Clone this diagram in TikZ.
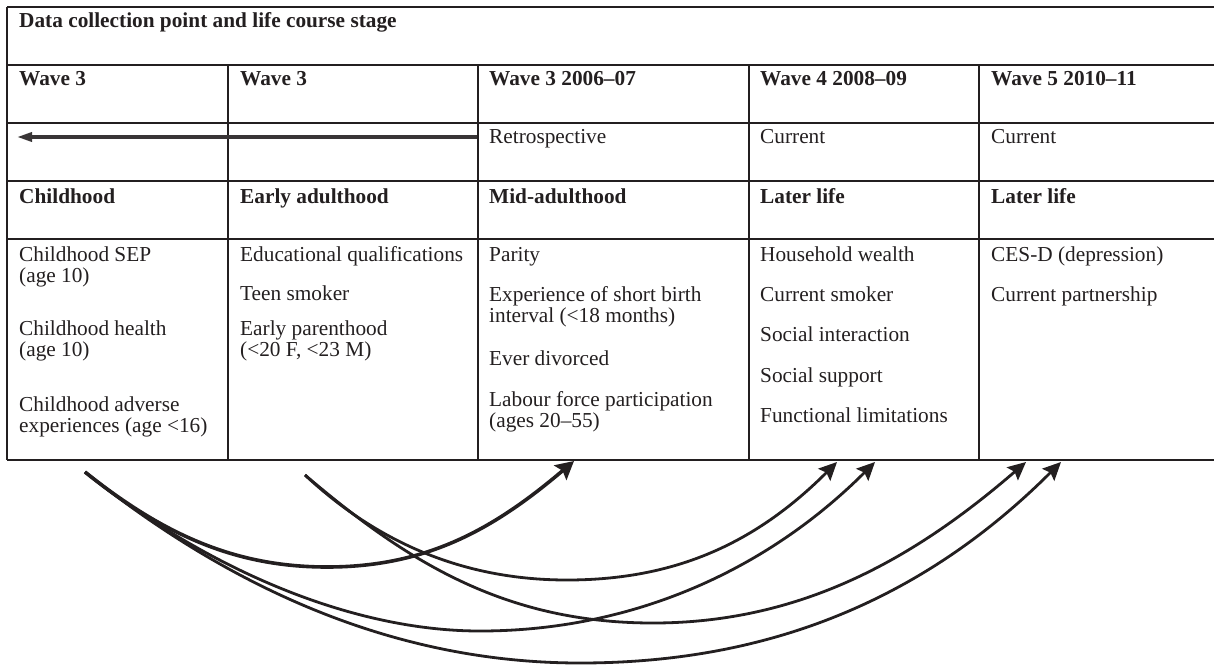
\documentclass[tikz,border=0pt]{standalone}
\usepackage{fontspec}
\setmainfont{Liberation Serif}
\usetikzlibrary{arrows.meta}
\definecolor{ink}{RGB}{35,31,32}
\newcommand\tfs{\fontsize{21.3}{21}\selectfont}
\begin{document}
\begin{tikzpicture}[x=1pt,y=-1pt,
  cell/.style={anchor=base west, inner sep=0pt, font=\tfs, text=ink},
  head/.style={cell, font=\tfs\bfseries},
  gridline/.style={line width=1.3pt, draw=ink},
  rowarrow/.style={line width=3.4pt, draw=ink!90, -{Triangle[length=15pt,width=9pt]}},
  flow/.style={line width=2.8pt, draw=ink, -{Stealth[length=18pt,width=17pt,inset=3pt]}},
  flowthick/.style={line width=3.6pt, draw=ink, -{Stealth[length=18pt,width=19pt,inset=3pt]}}]
\useasboundingbox (0,0) rectangle (1214,666);
% table grid
\foreach \yy in {7,65,123,181,239,460} \draw[gridline] (7,\yy) -- (1214,\yy);
\draw[gridline] (7,7) -- (7,460);
\foreach \xx in {228,478,749,979} \draw[gridline] (\xx,65) -- (\xx,460);
% title
\node[head] (title) at (19,28) {Data collection point and life course stage};
% wave row
\node[head] (w1) at (19,86) {Wave 3};
\node[head] (w2) at (240,86) {Wave 3};
\node[head] (w3) at (489,86) {Wave 3 2006–07};
\node[head] (w4) at (760,86) {Wave 4 2008–09};
\node[head] (w5) at (991,86) {Wave 5 2010–11};
% retrospective row
\node[cell] (r3) at (489,143) {Retrospective};
\node[cell] (r4) at (760,143) {Current};
\node[cell] (r5) at (991,143) {Current};
\coordinate (ra) at (477,137);
\coordinate (rb) at (17,137);
\draw[rowarrow] (ra) -- (rb);
% stage row
\node[head] (s1) at (19,203) {Childhood};
\node[head] (s2) at (240,203) {Early adulthood};
\node[head] (s3) at (489,203) {Mid-adulthood};
\node[head] (s4) at (760,203) {Later life};
\node[head] (s5) at (991,203) {Later life};
% column 1
\node[cell] (c1a) at (19,261) {Childhood SEP};
\node[cell] (c1b) at (19,282) {(age 10)};
\node[cell] (c1c) at (19,335) {Childhood health};
\node[cell] (c1d) at (19,356) {(age 10)};
\node[cell] (c1e) at (19,411) {Childhood adverse};
\node[cell] (c1f) at (19,432) {experiences (age <16)};
% column 2
\node[cell] (c2a) at (240,261) {Educational qualifications};
\node[cell] (c2b) at (240,300) {Teen smoker};
\node[cell] (c2c) at (240,335) {Early parenthood};
\node[cell] (c2d) at (240,356) {(<20 F, <23 M)};
% column 3
\node[cell] (c3a) at (489,261) {Parity};
\node[cell] (c3b) at (489,301) {Experience of short birth};
\node[cell] (c3c) at (489,322) {interval (<18 months)};
\node[cell] (c3d) at (489,365) {Ever divorced};
\node[cell] (c3e) at (489,406) {Labour force participation};
\node[cell] (c3f) at (489,427) {(ages 20–55)};
% column 4
\node[cell] (c4a) at (760,261) {Household wealth};
\node[cell] (c4b) at (760,301) {Current smoker};
\node[cell] (c4c) at (760,341) {Social interaction};
\node[cell] (c4d) at (760,382) {Social support};
\node[cell] (c4e) at (760,422) {Functional limitations};
% column 5
\node[cell] (c5a) at (991,261) {CES-D (depression)};
\node[cell] (c5b) at (991,301) {Current partnership};
% curved arrows
\coordinate (ca) at (85,472);
\coordinate (cb) at (305,475);
\coordinate (e1) at (574,461);
\coordinate (e2) at (837,462);
\coordinate (e3) at (875,462);
\coordinate (e4) at (1026,462);
\coordinate (e5) at (1061,462);
\coordinate (m1) at (327,567);
\coordinate (m2) at (567,580);
\coordinate (m3) at (480,631);
\coordinate (m4) at (653,623);
\coordinate (m5) at (580,663);
\draw[flowthick] (ca) .. controls +(80,64) and +(-90,0) .. (m1) .. controls +(100,0) and +(-80,68) .. (e1);
\draw[flow] (ca) .. controls +(120,96) and +(-130,0) .. (m3) .. controls +(150,0) and +(-110,110) .. (e3);
\draw[flow] (ca) .. controls +(130,104) and +(-200,0) .. (m5) .. controls +(170,0) and +(-150,150) .. (e5);
\draw[flow] (cb) .. controls +(75,70) and +(-100,0) .. (m2) .. controls +(110,0) and +(-80,80) .. (e2);
\draw[flow] (cb) .. controls +(100,85) and +(-150,0) .. (m4) .. controls +(150,0) and +(-110,95) .. (e4);
\end{tikzpicture}
\end{document}
